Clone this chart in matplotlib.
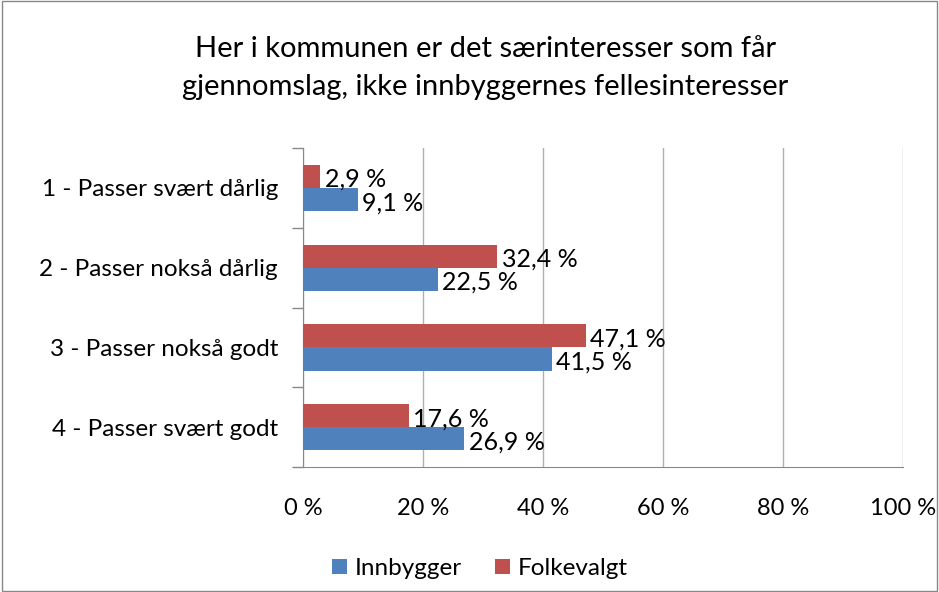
import matplotlib.pyplot as plt
import numpy as np
from matplotlib.patches import Rectangle

plt.rcParams['font.family'] = ['Lato', 'DejaVu Sans']

categories = ["1 - Passer svært dårlig", "2 - Passer nokså dårlig",
              "3 - Passer nokså godt", "4 - Passer svært godt"]
innbygger = [9.1, 22.5, 41.5, 26.9]
folkevalgt = [2.9, 32.4, 47.1, 17.6]
xticks = [0, 20, 40, 60, 80, 100]

blue = "#4f81bd"
red = "#c0504d"

fig = plt.figure(figsize=(9.39, 5.92), dpi=100)
ax = fig.add_axes((0.3227, 0.2111, 0.639, 0.5389))

y = np.arange(len(categories))
h = 0.29
b1 = ax.barh(y + h / 2, innbygger, height=h, color=blue, label="Innbygger", zorder=3)
b2 = ax.barh(y - h / 2, folkevalgt, height=h, color=red, label="Folkevalgt", zorder=3)

for rect, v in zip(b1, innbygger):
    ax.text(v + 0.7, rect.get_y() + rect.get_height() / 2 + 0.04,
            f"{v:.1f} %".replace(".", ","), va="center", ha="left", fontsize=18, zorder=4)
for rect, v in zip(b2, folkevalgt):
    ax.text(v + 0.7, rect.get_y() + rect.get_height() / 2 + 0.04,
            f"{v:.1f} %".replace(".", ","), va="center", ha="left", fontsize=18, zorder=4)

ax.set_xlim(0, 100)
ax.set_ylim(3.5, -0.5)
ax.set_xticks(xticks)
ax.set_xticklabels([f"{t} %" for t in xticks], fontsize=17)
ax.set_yticks(y)
ax.set_yticklabels(categories, fontsize=17.5)
ax.tick_params(axis="y", length=0, pad=18)
ax.tick_params(axis="x", length=0, pad=22)
ax.set_yticks(np.arange(-0.5, 4, 1), minor=True)
ax.tick_params(axis="y", which="minor", length=8, color="#888888", width=1)
ax.grid(axis="x", color="#b0b0b0", linewidth=1, zorder=0)
for s in ["top", "right"]:
    ax.spines[s].set_visible(False)
ax.spines["left"].set_color("#888888")
ax.spines["bottom"].set_color("#888888")

fig.text(0.517, 0.885, "Her i kommunen er det særinteresser som får\ngjennomslag, ikke innbyggernes fellesinteresser",
         fontsize=21, ha="center", va="center", linespacing=1.55)

fig.legend(handles=[b1, b2], loc="center", bbox_to_anchor=(0.511, 0.04), ncol=2,
           frameon=False, fontsize=17.5, handlelength=0.6, handleheight=0.6,
           columnspacing=1.4, handletextpad=0.3)

fig.patches.append(Rectangle((0.002, 0.002), 0.996, 0.996, transform=fig.transFigure,
                             fill=False, edgecolor="#888888", linewidth=1))

fig.savefig("out.png", dpi=100)
